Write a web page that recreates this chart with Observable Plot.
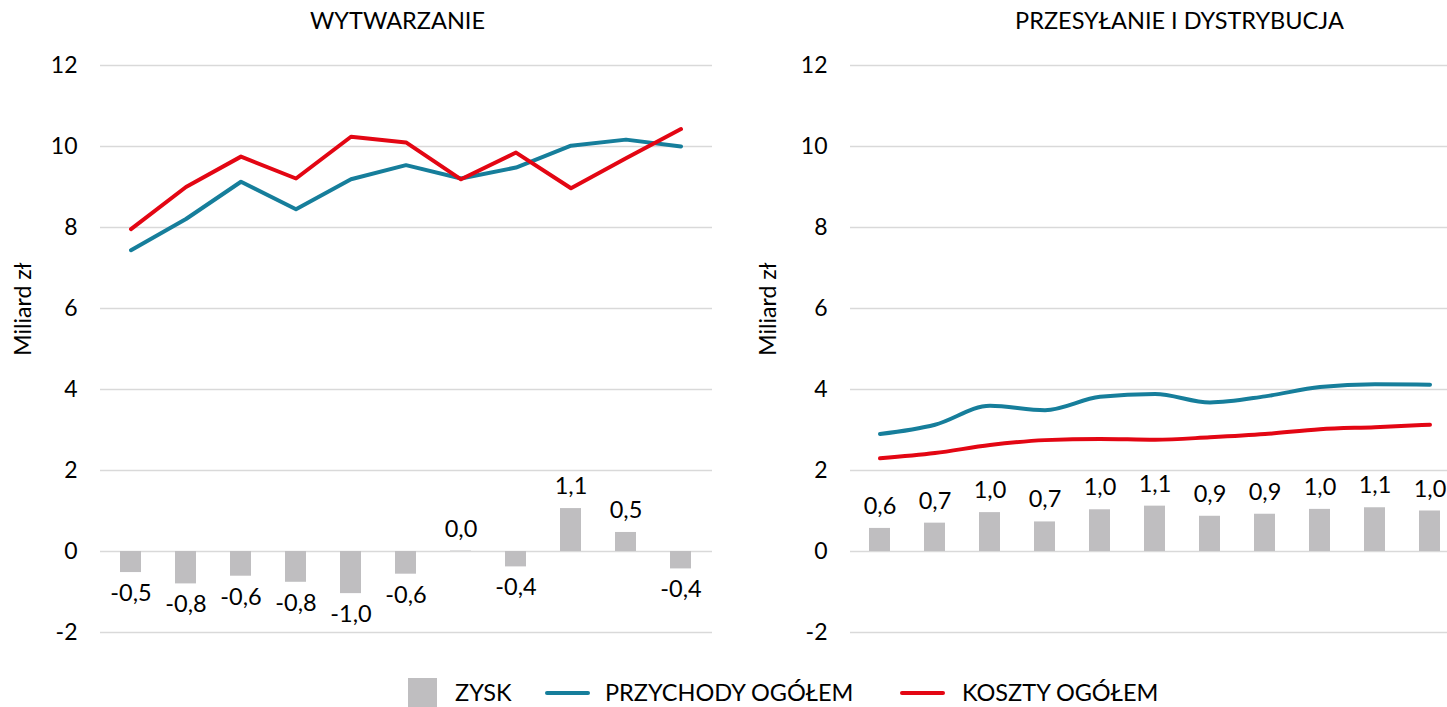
<!DOCTYPE html>
<html>
<head>
<meta charset="utf-8">
<script src="https://cdn.jsdelivr.net/npm/d3@7"></script>
<script src="https://cdn.jsdelivr.net/npm/@observablehq/plot@0.6"></script>
<style>
  html, body { margin: 0; padding: 0; background: #fff; overflow: hidden; }
  body { width: 1447px; height: 707px; position: relative; font-family: Lato, sans-serif; }
  #left { position: absolute; left: 0; top: 0; width: 723px; }
  #right { position: absolute; left: 723px; top: 0; width: 737px; }
  #left svg, #right svg { max-width: none !important; }
  #legend { position: absolute; top: 678px; left: 0; width: 1447px; height: 29px; font-family: Lato, sans-serif; font-size: 23.5px; color: #000; }
  .sw { position: absolute; }
  .lt { position: absolute; top: 0px; line-height: 29px; white-space: nowrap; }
</style>
</head>
<body>
<div id="left"></div>
<div id="right"></div>
<div id="legend">
  <div class="sw" style="left:408px; top:0px; width:29px; height:29px; background:#BFBEC0;"></div>
  <div class="lt" style="left:455px;">ZYSK</div>
  <div class="sw" style="left:545px; top:13px; width:45px; height:4px; border-radius:2px; background:#167E9B;"></div>
  <div class="lt" style="left:605px;">PRZYCHODY OGÓŁEM</div>
  <div class="sw" style="left:900px; top:13px; width:45px; height:4px; border-radius:2px; background:#E30613;"></div>
  <div class="lt" style="left:962px;">KOSZTY OGÓŁEM</div>
</div>
<script>
// Categories (periods; not labelled on the chart)
const okresy = ["1","2","3","4","5","6","7","8","9","10","11"];

// WYTWARZANIE
const wytPrzychody = [7.44, 8.21, 9.13, 8.45, 9.19, 9.54, 9.21, 9.48, 10.02, 10.17, 10.00];
const wytKoszty    = [7.96, 9.00, 9.75, 9.21, 10.24, 10.10, 9.19, 9.85, 8.97, 9.71, 10.43];
const wytZysk      = [-0.52, -0.80, -0.61, -0.76, -1.04, -0.56, 0.01, -0.38, 1.06, 0.47, -0.43];

// PRZESYŁANIE I DYSTRYBUCJA
const pidPrzychody = [2.90, 3.13, 3.60, 3.49, 3.82, 3.89, 3.68, 3.83, 4.06, 4.13, 4.12];
const pidKoszty    = [2.30, 2.43, 2.63, 2.75, 2.78, 2.76, 2.82, 2.90, 3.02, 3.07, 3.13];
const pidZysk      = [0.57, 0.70, 0.96, 0.73, 1.03, 1.12, 0.87, 0.92, 1.04, 1.08, 1.00];

const yTicks = [-2, 0, 2, 4, 6, 8, 10, 12];
const yLabel = "Miliard zł";

const fmt = v => v.toFixed(1).replace(".", ",");
const tickFmt = d => d < 0 ? "-" + Math.abs(d) : String(d);

function panel({title, przychody, koszty, zysk, width, marginLeft, marginRight, titleDx, labelX, curve}) {
  const rows = okresy.map((k, i) => ({k, p: przychody[i], c: koszty[i], z: zysk[i]}));
  return Plot.plot({
    width, height: 660,
    marginTop: 65, marginBottom: 28, marginLeft, marginRight,
    style: {fontFamily: "Lato, sans-serif", background: "transparent", maxWidth: "none"},
    x: {type: "band", domain: okresy, paddingInner: 0.61, paddingOuter: 0.305, axis: null},
    y: {domain: [-2, 12], range: [632, 65], axis: null},
    marks: [
      Plot.ruleY(yTicks, {stroke: "#D9D9D9", strokeWidth: 1.3}),
      Plot.barY(rows, {x: "k", y: "z", fill: "#BFBEC0"}),
      Plot.text(rows.filter(d => d.z >= 0), {x: "k", y: "z", text: d => fmt(d.z), dy: -22, fontSize: 23.5, fill: "#000"}),
      Plot.text(rows.filter(d => d.z < 0), {x: "k", y: "z", text: d => fmt(d.z), dy: 21, fontSize: 23.5, fill: "#000"}),
      Plot.line(rows, {x: "k", y: "p", stroke: "#167E9B", strokeWidth: 4, curve, strokeLinecap: "round", strokeLinejoin: "round"}),
      Plot.line(rows, {x: "k", y: "c", stroke: "#E30613", strokeWidth: 4, curve, strokeLinecap: "round", strokeLinejoin: "round"}),
      Plot.axisY({ticks: yTicks, tickSize: 0, tickPadding: 23, fontSize: 23, label: null, tickFormat: tickFmt, fill: "#000"}),
      Plot.text([yLabel], {frameAnchor: "left", textAnchor: "middle", lineAnchor: "middle", dx: -(marginLeft - labelX), dy: -40, rotate: -90, fontSize: 23, fill: "#000"}),
      Plot.text([title], {frameAnchor: "top", lineAnchor: "middle", dy: -44, dx: titleDx, fontSize: 23.5, fill: "#000"})
    ]
  });
}

document.getElementById("left").append(panel({
  title: "WYTWARZANIE", przychody: wytPrzychody, koszty: wytKoszty, zysk: wytZysk,
  width: 723, marginLeft: 100, marginRight: 11, titleDx: -9, labelX: 23, curve: "linear"
}));
document.getElementById("right").append(panel({
  title: "PRZESYŁANIE I DYSTRYBUCJA", przychody: pidPrzychody, koszty: pidKoszty, zysk: pidZysk,
  width: 737, marginLeft: 127, marginRight: 0, titleDx: 24, labelX: 45, curve: "monotone-x"
}));
</script>
</body>
</html>
